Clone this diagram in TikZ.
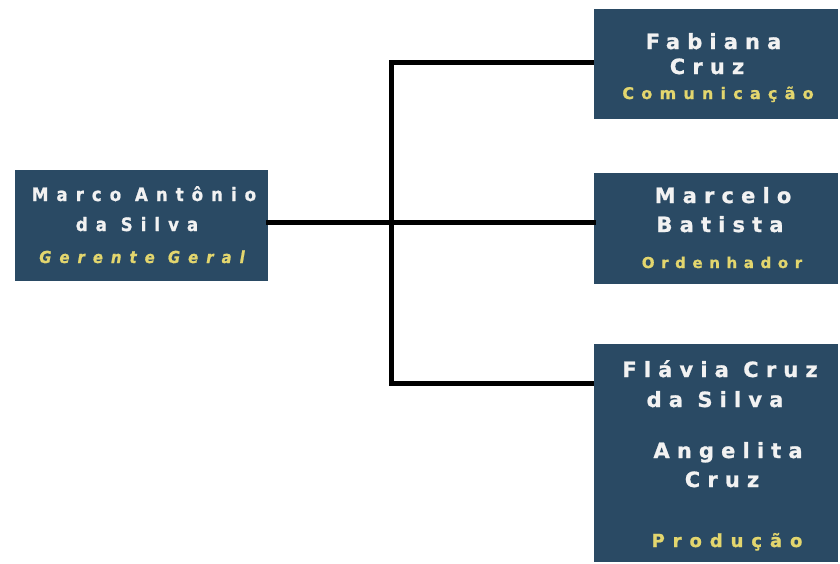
\documentclass[tikz,border=0pt]{standalone}
\usepackage{graphicx}
\usepackage{fontspec}
\setmainfont{DejaVu Sans}
\definecolor{boxc}{HTML}{2A4A64}
\definecolor{rolec}{HTML}{E3D66E}
\definecolor{namec}{HTML}{F2F2F2}
\newcommand\tl[3]{{\fontsize{#1}{#1}\selectfont\bfseries\addfontfeature{LetterSpace=#2,FakeBold=1}#3}}
\newcommand\narrowtl[3]{\scalebox{0.9}[1]{\tl{#1}{#2}{#3}}}
\tikzset{
  orgbox/.style={rectangle, fill=boxc, draw=none, inner sep=0pt},
  nametxt/.style={anchor=base, inner sep=0pt, text=namec},
  roletxt/.style={anchor=base, inner sep=0pt, text=rolec},
  conn/.style={line width=4.5pt, black, line cap=rect}
}
\begin{document}
\begin{tikzpicture}[x=1pt,y=-1pt]
\useasboundingbox[fill=white] (0,0) rectangle (840,563);
% boxes
\node[orgbox, minimum width=253pt, minimum height=111pt] (boss) at (141.5,225.5) {};
\node[orgbox, minimum width=244pt, minimum height=110pt] (fab) at (716,64) {};
\node[orgbox, minimum width=244pt, minimum height=111pt] (mar) at (716,228.5) {};
\node[orgbox, minimum width=244pt, minimum height=218pt] (fla) at (716,453) {};
% connectors
\coordinate (jt) at (391.7,62.7);
\coordinate (jm) at (391.7,222.7);
\coordinate (jb) at (391.7,383.3);
\draw[conn] (boss.east |- jm) -- (jm -| mar.west);
\draw[conn, line cap=butt] (jt -| fab.west) -- (jt) -- (jb) -- (jb -| fla.west);
% texts
\node[nametxt] (t1) at (144,201) {\narrowtl{18.5}{48}{Marco Antônio}};
\node[nametxt] (t2) at (137,231) {\narrowtl{18.5}{48}{da Silva}};
\node[roletxt] (t3) at (142,263) {\narrowtl{16.5}{54}{\itshape Gerente Geral}};
\node[nametxt] (t4) at (713.5,49) {\tl{21}{34}{Fabiana}};
\node[nametxt] (t5) at (707,74) {\tl{21}{34}{Cruz}};
\node[roletxt] (t6) at (718,99) {\tl{16}{45}{Comunicação}};
\node[nametxt] (t7) at (723,203) {\tl{21}{34}{Marcelo}};
\node[nametxt] (t8) at (720,232) {\tl{21}{34}{Batista}};
\node[roletxt] (t9) at (722,268) {\tl{15}{44}{Ordenhador}};
\node[nametxt] (t10) at (720,377) {\tl{21}{34}{Flávia Cruz}};
\node[nametxt] (t11) at (715,407) {\tl{21}{34}{da Silva}};
\node[nametxt] (t12) at (728,458) {\tl{21}{34}{Angelita}};
\node[nametxt] (t13) at (722,487) {\tl{21}{34}{Cruz}};
\node[roletxt] (t14) at (727,547) {\tl{18}{44}{Produção}};
\end{tikzpicture}
\end{document}
